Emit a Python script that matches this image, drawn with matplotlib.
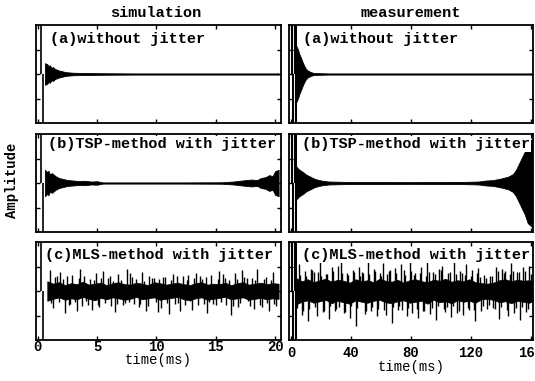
import matplotlib
matplotlib.use("Agg")
import matplotlib.pyplot as plt
import numpy as np

plt.rcParams['font.family'] = ['Liberation Mono', 'DejaVu Sans Mono']
plt.rcParams['font.weight'] = 'bold'

# ---------------- data ----------------
col_titles = ["simulation", "measurement"]
row_labels = ["(a)without jitter", "(b)TSP-method with jitter", "(c)MLS-method with jitter"]
sim_ticks = [0, 5, 10, 15, 20]
meas_ticks = [0, 40, 80, 120, 160]

# clipped impulse lines at the start (ms, amplitude)
sim_imp_t = [0.25, 0.45]
sim_imp_a = [1.5, -1.5]
meas_imp_t = [0.3, 1.3, 2.4, 2.9, 3.4]
meas_imp_a = [1.5, -1.5, 1.5, -1.5, 1.5]

# envelopes of the dense oscillations (ms, half-amplitude)
sim_a_t = [0.6, 0.8, 0.9, 1.0, 1.15, 1.3, 1.45, 1.6, 1.8, 2.0, 2.3, 2.5, 3.0, 4.0, 6.0, 8.0, 20.3]
sim_a_env = [0.22, 0.2, 0.16, 0.18, 0.13, 0.14, 0.1, 0.09, 0.07, 0.06, 0.04, 0.035, 0.025, 0.02, 0.015, 0.012, 0.012]

sim_b_t = [0.6, 0.8, 0.9, 1.0, 1.2, 1.5, 1.8, 2.0, 2.5, 3.0, 3.5, 4.0, 4.5, 5.0, 5.5, 8.0, 12.0, 15.5,
           16.5, 17.2, 18.0, 18.5, 18.8, 19.2, 19.5, 19.8, 20.0, 20.3]
sim_b_env = [0.27, 0.22, 0.25, 0.18, 0.2, 0.14, 0.1, 0.09, 0.06, 0.05, 0.04, 0.045, 0.03, 0.035, 0.012,
             0.012, 0.012, 0.015, 0.03, 0.05, 0.07, 0.06, 0.1, 0.12, 0.16, 0.14, 0.24, 0.27]

meas_a_t = [3.0, 4.5, 5.5, 6.5, 7.5, 8.5, 9.5, 11.0, 13.0, 15.0, 25.0, 161.0]
meas_a_env = [0.6, 0.5, 0.4, 0.33, 0.25, 0.18, 0.12, 0.07, 0.04, 0.02, 0.012, 0.012]

meas_b_t = [3.0, 5.0, 8.0, 10.0, 12.0, 16.0, 20.0, 25.0, 40.0, 60.0, 80.0, 100.0, 115.0, 125.0, 130.0,
            135.0, 140.0, 145.0, 148.0, 150.0, 153.0, 156.0, 158.0, 161.0]
meas_b_env = [0.35, 0.28, 0.22, 0.17, 0.14, 0.08, 0.05, 0.03, 0.02, 0.02, 0.018, 0.02, 0.022, 0.03, 0.05,
              0.06, 0.09, 0.13, 0.18, 0.26, 0.45, 0.64, 0.82, 0.9]

# MLS noise: dense core band and individual spikes
sim_c_t = [0.8, 1.3, 1.8, 2.3, 2.8, 3.3, 3.8, 4.3, 4.8, 5.3, 5.8, 6.3, 6.8, 7.3, 7.8, 8.3, 8.8, 9.3, 9.8,
           10.3, 10.8, 11.3, 11.8, 12.3, 12.8, 13.3, 13.8, 14.3, 14.8, 15.3, 15.8, 16.3, 16.8, 17.3, 17.8,
           18.3, 18.8, 19.3, 19.8, 20.3]
sim_c_up = [0.2, 0.15, 0.18, 0.12, 0.16, 0.14, 0.19, 0.13, 0.15, 0.17, 0.12, 0.16, 0.18, 0.14, 0.13, 0.17,
            0.15, 0.12, 0.18, 0.16, 0.13, 0.15, 0.17, 0.14, 0.12, 0.16, 0.18, 0.13, 0.15, 0.14, 0.17, 0.12,
            0.16, 0.18, 0.13, 0.15, 0.17, 0.14, 0.16, 0.15]
sim_c_lo = [-0.2, -0.16, -0.13, -0.18, -0.15, -0.17, -0.12, -0.16, -0.19, -0.14, -0.17, -0.13, -0.15,
            -0.18, -0.16, -0.12, -0.17, -0.15, -0.13, -0.18, -0.16, -0.14, -0.12, -0.17, -0.19, -0.15,
            -0.13, -0.18, -0.16, -0.14, -0.12, -0.17, -0.15, -0.13, -0.18, -0.16, -0.14, -0.17, -0.15, -0.16]
sim_c_spk_t = [1.0, 1.3, 1.6, 1.9, 2.3, 2.6, 2.9, 3.3, 3.6, 3.9, 4.2, 4.6, 4.9, 5.2, 5.5, 5.9, 6.2, 6.5,
               6.8, 7.2, 7.5, 7.8, 8.1, 8.5, 8.8, 9.1, 9.4, 9.8, 10.1, 10.4, 10.7, 11.1, 11.4, 11.7, 12.0,
               12.4, 12.7, 13.0, 13.3, 13.7, 14.0, 14.3, 14.6, 15.0, 15.3, 15.6, 15.9, 16.3, 16.6, 16.9,
               17.2, 17.6, 17.9, 18.2, 18.5, 18.9, 19.2, 19.5, 19.8, 20.1]
sim_c_spk_a = [0.42, -0.35, 0.30, 0.38, -0.45, -0.28, 0.33, -0.40, 0.45, 0.30, -0.28, -0.38, 0.36, -0.32,
               0.40, 0.26, -0.31, -0.42, 0.34, -0.29, 0.44, 0.36, -0.27, -0.33, 0.39, -0.41, 0.30, 0.27,
               -0.43, -0.34, 0.29, -0.46, 0.35, 0.31, -0.41, -0.28, 0.32, -0.39, 0.37, 0.30, -0.26, -0.44,
               0.33, -0.29, 0.40, 0.35, -0.28, -0.48, 0.36, -0.32, 0.42, 0.27, -0.30, -0.37, 0.45, -0.33,
               0.29, -0.40, 0.38, -0.30]
sim_c_spk2_t = [1.15, 1.45, 1.75, 2.1, 2.45, 2.75, 3.1, 3.45, 3.75, 4.05, 4.4, 4.75, 5.05, 5.35, 5.7,
                6.05, 6.35, 6.65, 7.0, 7.35, 7.65, 7.95, 8.3, 8.65, 8.95, 9.25, 9.6, 9.95, 10.25, 10.55,
                10.9, 11.25, 11.55, 11.85, 12.2, 12.55, 12.85, 13.15, 13.5, 13.85, 14.15, 14.45, 14.8,
                15.15, 15.45, 15.75, 16.1, 16.45, 16.75, 17.05, 17.4, 17.75, 18.05, 18.35, 18.7, 19.05,
                19.35, 19.65, 19.95]
sim_c_spk2_a = [-0.25, 0.28, -0.22, 0.24, 0.3, -0.26, -0.23, 0.27, -0.3, -0.21, 0.25, 0.22, -0.28,
                0.26, -0.24, 0.3, 0.21, -0.27, 0.23, -0.25, -0.22, 0.29, 0.24, -0.26, 0.21, -0.3,
                0.27, -0.23, 0.25, 0.28, -0.24, 0.22, -0.27, -0.25, 0.3, 0.23, -0.21, 0.26, -0.28,
                0.24, 0.29, -0.22, -0.26, 0.25, -0.23, 0.27, 0.22, -0.3, 0.24, -0.25, 0.28, -0.21,
                0.26, 0.23, -0.29, 0.25, -0.24, 0.22, -0.27]

meas_c_t = [3.5, 7, 11, 15, 19, 23, 27, 31, 35, 39, 43, 47, 51, 55, 59, 63, 67, 71, 75, 79, 83, 87, 91,
            95, 99, 103, 107, 111, 115, 119, 123, 127, 131, 135, 139, 143, 147, 151, 155, 159, 161]
meas_c_up = [0.26, 0.2, 0.24, 0.18, 0.22, 0.25, 0.19, 0.23, 0.21, 0.17, 0.24, 0.2, 0.22, 0.18, 0.25, 0.21,
             0.19, 0.23, 0.17, 0.22, 0.24, 0.2, 0.18, 0.23, 0.21, 0.25, 0.19, 0.22, 0.2, 0.24, 0.18,
             0.16, 0.15, 0.17, 0.22, 0.24, 0.2, 0.23, 0.21, 0.22, 0.2]
meas_c_lo = [-0.27, -0.22, -0.19, -0.24, -0.21, -0.18, -0.25, -0.2, -0.23, -0.26, -0.19, -0.22, -0.24,
             -0.2, -0.18, -0.23, -0.25, -0.21, -0.19, -0.24, -0.22, -0.2, -0.26, -0.18, -0.23, -0.21,
             -0.25, -0.19, -0.22, -0.2, -0.24, -0.17, -0.16, -0.18, -0.23, -0.21, -0.25, -0.2, -0.22,
             -0.24, -0.21]
meas_c_spk_t = [5, 7, 9, 11, 13, 15, 17, 19, 21, 23, 25, 27, 29, 31, 33, 35, 37, 39, 41, 43, 45, 47, 49,
                51, 53, 55, 57, 59, 61, 63, 65, 67, 69, 71, 73, 75, 77, 79, 81, 83, 85, 87, 89, 91, 93,
                95, 97, 99, 101, 103, 105, 107, 109, 111, 113, 115, 117, 119, 121, 123, 125, 127, 129,
                131, 133, 135, 137, 139, 141, 143, 145, 147, 149, 151, 153, 155, 157, 159]
meas_c_spk_a = [0.55, -0.48, 0.40, -0.62, 0.45, 0.38, -0.50, 0.66, -0.42, 0.35, -0.58, 0.48, -0.40,
                0.52, 0.70, -0.45, 0.37, -0.55, 0.42, -0.72, 0.50, 0.38, -0.46, 0.60, -0.40, 0.44,
                -0.52, 0.36, 0.58, -0.48, 0.40, -0.65, 0.47, -0.38, 0.55, 0.42, -0.50, 0.62, -0.44,
                0.36, -0.56, 0.48, -0.40, 0.68, -0.46, 0.39, -0.60, 0.45, 0.52, -0.42, 0.37, -0.54,
                0.64, -0.45, 0.40, -0.48, 0.56, -0.38, 0.42, -0.62, 0.46, -0.40, 0.33, -0.36, 0.30,
                -0.34, 0.50, -0.58, 0.44, 0.40, -0.52, 0.58, -0.45, 0.38, -0.60, 0.48, -0.42, 0.52]
meas_c_spk2_t = [4, 6, 8, 10, 12, 14, 16, 18, 20, 22, 24, 26, 28, 30, 32, 34, 36, 38, 40, 42, 44, 46, 48,
                 50, 52, 54, 56, 58, 60, 62, 64, 66, 68, 70, 72, 74, 76, 78, 80, 82, 84, 86, 88, 90, 92,
                 94, 96, 98, 100, 102, 104, 106, 108, 110, 112, 114, 116, 118, 120, 122, 124, 126, 128,
                 130, 132, 134, 136, 138, 140, 142, 144, 146, 148, 150, 152, 154, 156, 158, 160]
meas_c_spk2_a = [-0.35, 0.32, -0.4, 0.3, -0.36, 0.42, -0.33, 0.38, 0.31, -0.4, 0.35, -0.3, 0.41, -0.37,
                 -0.32, 0.36, -0.42, 0.33, -0.3, 0.39, -0.35, 0.3, 0.37, -0.41, 0.34, -0.33, 0.4, -0.36,
                 0.31, -0.38, 0.35, 0.42, -0.32, 0.37, -0.3, -0.39, 0.33, -0.35, 0.4, 0.32, -0.37, 0.36,
                 -0.41, 0.3, 0.38, -0.34, 0.35, -0.3, 0.42, -0.36, -0.33, 0.39, -0.31, 0.34, -0.4, 0.37,
                 0.32, -0.35, 0.3, -0.38, 0.36, 0.28, -0.3, 0.26, -0.28, 0.3, -0.36, 0.4, -0.33, 0.37,
                 -0.39, 0.34, 0.41, -0.35, 0.38, -0.32, 0.4, -0.37, 0.35]

# ---------------- figure ----------------
W, H = 535, 381
fig = plt.figure(figsize=(W / 100, H / 100), dpi=100)
lefts = [36, 289]
widths = [245, 244]
tops = [25, 134, 242]
heights = [98, 98, 98]
label_x = [[0.057, 0.049, 0.037], [0.057, 0.053, 0.053]]
label_y = [0.86, 0.9, 0.87]

def mkax(col, row):
    l = lefts[col] / W
    b = 1 - (tops[row] + heights[row]) / H
    return fig.add_axes([l, b, widths[col] / W, heights[row] / H])

def style(ax, col, row):
    ax.set_ylim(-1, 1)
    if col == 0:
        ax.set_xlim(-0.15, 20.5)
        ax.set_xticks(sim_ticks)
    else:
        ax.set_xlim(-1.5, 161.5)
        ax.set_xticks(meas_ticks)
    ax.set_yticks([-0.5, 0, 0.5])
    ax.tick_params(direction='in', length=3, width=1, top=True, right=True,
                   labelleft=False, labelsize=10, pad=0 if col == 0 else 4)
    if row < 2:
        ax.tick_params(labelbottom=False)
    else:
        ax.set_xlabel('time(ms)', fontsize=10, labelpad=-1 if col == 0 else 0)
    for s in ax.spines.values():
        s.set_linewidth(1.3)
    ax.text(label_x[col][row], label_y[row], row_labels[row],
            transform=ax.transAxes, fontsize=11, va='center', ha='left', zorder=10,
            bbox=dict(facecolor='white', edgecolor='none', pad=0.5))

env_data = {
    (0, 0): (sim_a_t, sim_a_env), (0, 1): (sim_b_t, sim_b_env),
    (1, 0): (meas_a_t, meas_a_env), (1, 1): (meas_b_t, meas_b_env),
}
noise_data = {
    0: (sim_c_t, sim_c_up, sim_c_lo, sim_c_spk_t, sim_c_spk_a, sim_c_spk2_t, sim_c_spk2_a),
    1: (meas_c_t, meas_c_up, meas_c_lo, meas_c_spk_t, meas_c_spk_a, meas_c_spk2_t, meas_c_spk2_a),
}

for col in range(2):
    imp_t = sim_imp_t if col == 0 else meas_imp_t
    imp_a = sim_imp_a if col == 0 else meas_imp_a
    for row in range(3):
        ax = mkax(col, row)
        ax.vlines(imp_t, 0, imp_a, color='black', lw=1.2 if col == 0 else 1.5)
        if row < 2:
            t, e = env_data[(col, row)]
            e = np.asarray(e)
            ax.fill_between(t, -e, e, color='black', lw=0.6)
        else:
            t, up, lo, st, sa, st2, sa2 = noise_data[col]
            ax.fill_between(t, lo, up, color='black', lw=0.5)
            ax.vlines(st, 0, sa, color='black', lw=1.0)
            ax.vlines(st2, 0, sa2, color='black', lw=1.0)
        style(ax, col, row)

fig.text(156 / W, 1 - 13 / H, col_titles[0], ha='center', va='center', fontsize=11)
fig.text(411 / W, 1 - 13 / H, col_titles[1], ha='center', va='center', fontsize=11)
fig.text(12 / W, 1 - 180 / H, 'Amplitude', rotation=90, ha='center', va='center', fontsize=10)

fig.savefig('out.png', dpi=100)
